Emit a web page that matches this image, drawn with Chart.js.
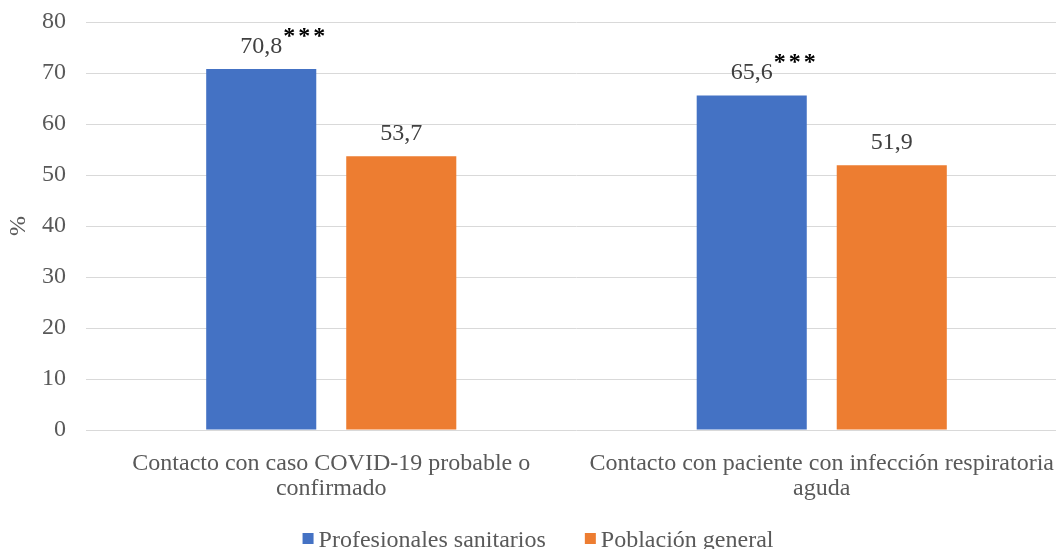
<!DOCTYPE html>
<html>
<head>
<meta charset="utf-8">
<script src="https://cdn.jsdelivr.net/npm/chart.js@4"></script>
<style>
  html, body { margin: 0; padding: 0; background: #ffffff; overflow: hidden; }
  /* the plot area runs a little past the right edge of the frame */
  #wrap { width: 1056px; height: 549px; overflow: hidden; }
</style>
</head>
<body>
<div id="wrap"><canvas id="chart" width="1067" height="549"></canvas></div>
<script>
// Categories (multi-line axis labels)
const categories = [
  ['Contacto con caso COVID-19 probable o', 'confirmado'],
  ['Contacto con paciente con infección respiratoria', 'aguda']
];
// Series
const seriesNames = ['Profesionales sanitarios', 'Población general'];
const seriesColors = ['#4472C4', '#ED7D31'];
const profesionales = [70.8, 65.6];
const poblacion = [53.7, 51.9];
// Significance markers per series
const profesionalesMarks = ['***', '***'];
const poblacionMarks = ['', ''];
// Axis
const yTicks = [0, 10, 20, 30, 40, 50, 60, 70, 80];
const yTitle = '%';

const FONT = "'Liberation Serif', 'Times New Roman', serif";

// Value labels above each bar, with an optional raised significance marker
const valueLabels = {
  id: 'valueLabels',
  afterDatasetsDraw(chart) {
    const ctx = chart.ctx;
    ctx.save();
    chart.data.datasets.forEach((ds, di) => {
      const meta = chart.getDatasetMeta(di);
      meta.data.forEach((bar, i) => {
        const v = ds.data[i];
        const txt = v.toFixed(1).replace('.', ',');
        ctx.font = '24px ' + FONT;
        ctx.fillStyle = '#404040';
        ctx.textAlign = 'center';
        ctx.textBaseline = 'alphabetic';
        const baseY = bar.y - 16;
        ctx.fillText(txt, bar.x, baseY);
        const mark = ds.marks[i];
        if (mark) {
          const w = ctx.measureText(txt).width;
          ctx.font = 'bold 24px ' + FONT;
          ctx.letterSpacing = '3px';
          ctx.fillStyle = '#000000';
          ctx.textAlign = 'left';
          ctx.fillText(mark, bar.x + w / 2 + 1, baseY - 10);
          ctx.letterSpacing = '0px';
        }
      });
    });
    ctx.restore();
  }
};

// Legend row along the bottom edge
const bottomLegend = {
  id: 'bottomLegend',
  afterDraw(chart) {
    const ctx = chart.ctx;
    ctx.save();
    ctx.font = '24px ' + FONT;
    const box = 11, gap = 5, spacing = 39;
    const items = chart.data.datasets.map(ds => ({
      text: ds.label, color: ds.backgroundColor, w: ctx.measureText(ds.label).width
    }));
    const total = items.reduce((s, it) => s + box + gap + it.w, 0) + spacing * (items.length - 1);
    let x = 538 - total / 2;
    const baseline = 547;
    items.forEach(it => {
      ctx.fillStyle = it.color;
      ctx.fillRect(x, baseline - 14, box, box);
      x += box + gap;
      ctx.fillStyle = '#595959';
      ctx.textAlign = 'left';
      ctx.textBaseline = 'alphabetic';
      ctx.fillText(it.text, x, baseline);
      x += it.w + spacing;
    });
    ctx.restore();
  }
};

new Chart(document.getElementById('chart'), {
  type: 'bar',
  data: {
    labels: categories,
    datasets: [
      { label: seriesNames[0], data: profesionales, marks: profesionalesMarks, backgroundColor: seriesColors[0] },
      { label: seriesNames[1], data: poblacion, marks: poblacionMarks, backgroundColor: seriesColors[1] }
    ]
  },
  options: {
    responsive: false,
    animation: false,
    devicePixelRatio: 1,
    categoryPercentage: 0.571,
    barPercentage: 0.786,
    layout: { padding: { top: 22, right: 0, left: 0, bottom: 0 } },
    plugins: {
      legend: { display: false },
      tooltip: { enabled: false }
    },
    scales: {
      x: {
        grid: { display: false, drawTicks: false },
        border: { display: false },
        ticks: {
          font: { family: FONT, size: 24, lineHeight: 1.04 },
          color: '#595959',
          padding: 21,
          maxRotation: 0,
          minRotation: 0,
          autoSkip: false
        },
        afterFit(scale) {
          scale.height = 119;
          scale.paddingLeft = 0;
          scale.paddingRight = 0;
        }
      },
      y: {
        min: 0,
        max: 80,
        afterBuildTicks(scale) { scale.ticks = yTicks.map(v => ({ value: v })); },
        grid: { color: '#D9D9D9', lineWidth: 1, drawTicks: false },
        border: { display: false },
        ticks: {
          font: { family: FONT, size: 24 },
          color: '#595959',
          padding: 20
        },
        title: {
          display: true,
          text: yTitle,
          font: { family: FONT, size: 24 },
          color: '#595959',
          padding: { top: 4, bottom: 0 }
        },
        afterFit(scale) {
          scale.width = 86;
          scale.paddingTop = 0;
          scale.paddingBottom = 0;
        }
      }
    }
  },
  plugins: [valueLabels, bottomLegend]
});
</script>
</body>
</html>
